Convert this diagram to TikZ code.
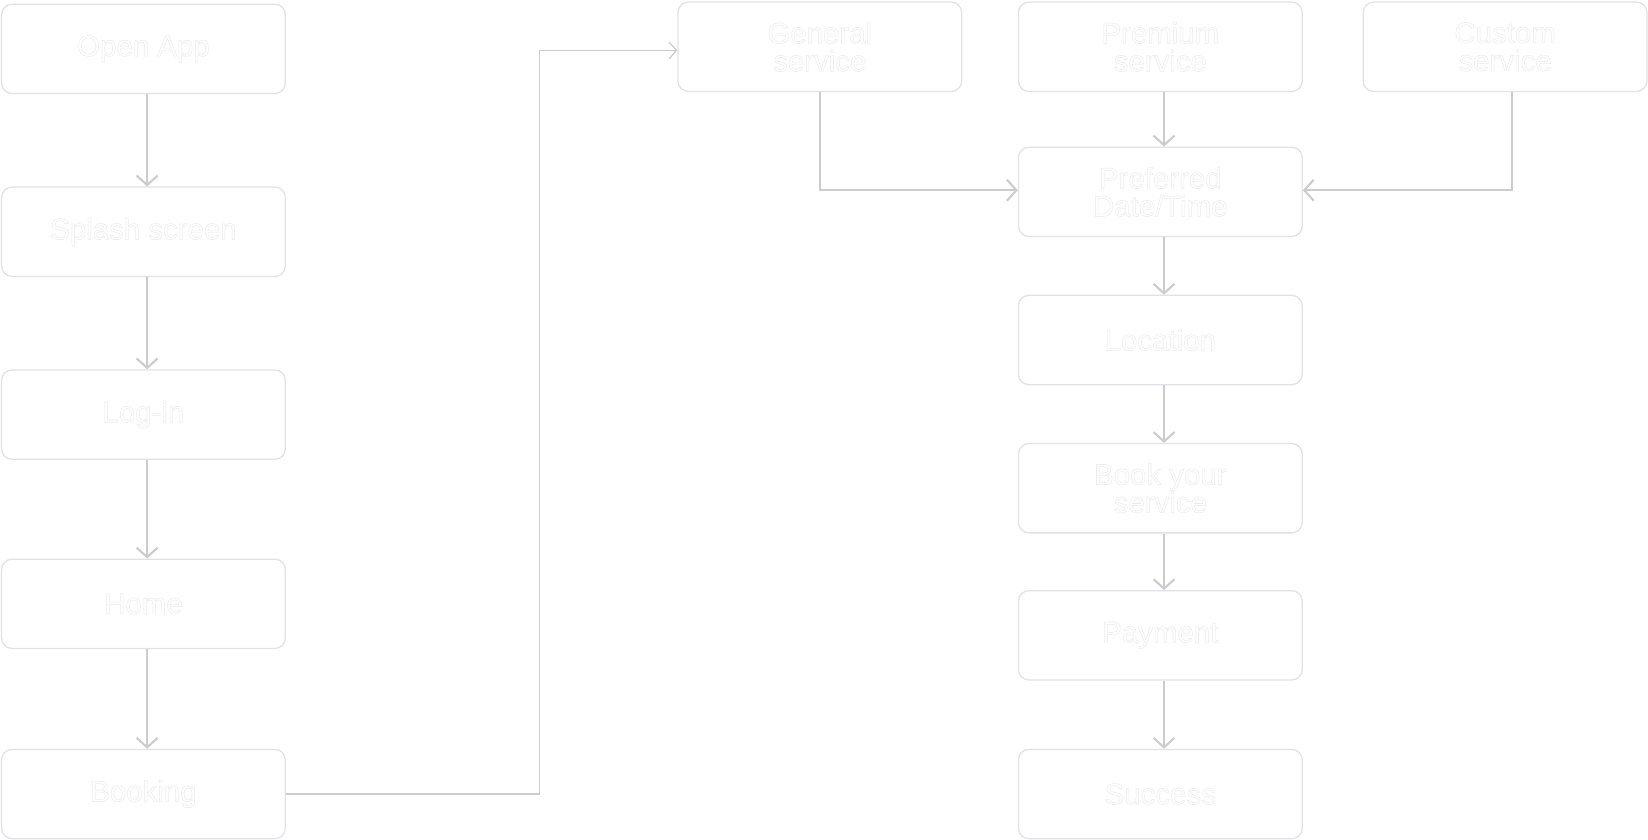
\documentclass[tikz,border=0pt]{standalone}
\usepackage{fontspec}
\setmainfont{Liberation Sans}
\usetikzlibrary{arrows.meta}
\definecolor{bord}{HTML}{E2E2E6}
\definecolor{arr}{HTML}{CCCCCC}
\newcommand\outl{\special{pdf:literal 2 Tr 0.5 w 0.92 0.92 0.93 RG}}
\tikzset{
  box/.style={draw=bord, line width=1.2pt, rounded corners=10pt, minimum width=270pt,
    minimum height=85pt, inner sep=0pt, text=white, align=center,
    font=\fontsize{28}{26.6}\selectfont},
  conn/.style={draw=arr, line width=2pt, -{Straight Barb[length=9pt,width=20pt]}},
  thin/.style={draw=arr, line width=1.2pt, -{Straight Barb[length=7pt,width=16pt]}}
}
\begin{document}
\begin{tikzpicture}[x=1pt,y=-1pt]
\useasboundingbox (0,0) rectangle (1568,799.2);
\fill[white] (0,0) rectangle (1568,799.2);
\node[box] (open) at (136.5,46.5) {\outl Open App};
\node[box] (splash) at (136.5,220.5) {\outl Splash screen};
\node[box] (login) at (136.5,394.5) {\outl Log-in};
\node[box] (home) at (136.5,574.5) {\outl Home};
\node[box] (book) at (136.5,755.5) {\outl Booking};
\node[box] (gen) at (780,44.5) {\outl General\\ \outl service};
\node[box] (prem) at (1104,44.5) {\outl Premium\\ \outl service};
\node[box] (cust) at (1432,44.5) {\outl Custom\\ \outl service};
\node[box] (pref) at (1104,182.5) {\outl Preferred\\ \outl Date/Time};
\node[box] (loc) at (1104,323.5) {\outl Location};
\node[box] (bys) at (1104,464.5) {\outl Book your\\ \outl service};
\node[box] (pay) at (1104,604.5) {\outl Payment};
\node[box] (succ) at (1104,755.5) {\outl Success};
\draw[conn] ([xshift=3.5pt]open.south) -- ([xshift=3.5pt]splash.north);
\draw[conn] ([xshift=3.5pt]splash.south) -- ([xshift=3.5pt]login.north);
\draw[conn] ([xshift=3.5pt]login.south) -- ([xshift=3.5pt]home.north);
\draw[conn] ([xshift=3.5pt]home.south) -- ([xshift=3.5pt]book.north);
\draw[thin] (book.east) -- ++(241,0) |- ([yshift=-3.5pt]gen.west);
\draw[conn] (gen.south) |- ([yshift=1.5pt]pref.west);
\draw[conn] ([xshift=3.5pt]prem.south) -- ([xshift=3.5pt]pref.north);
\draw[conn] ([xshift=7pt]cust.south) |- ([yshift=1.5pt]pref.east);
\draw[conn] ([xshift=3.5pt]pref.south) -- ([xshift=3.5pt]loc.north);
\draw[conn] ([xshift=3.5pt]loc.south) -- ([xshift=3.5pt]bys.north);
\draw[conn] ([xshift=3.5pt]bys.south) -- ([xshift=3.5pt]pay.north);
\draw[conn] ([xshift=3.5pt]pay.south) -- ([xshift=3.5pt]succ.north);
\end{tikzpicture}
\end{document}
